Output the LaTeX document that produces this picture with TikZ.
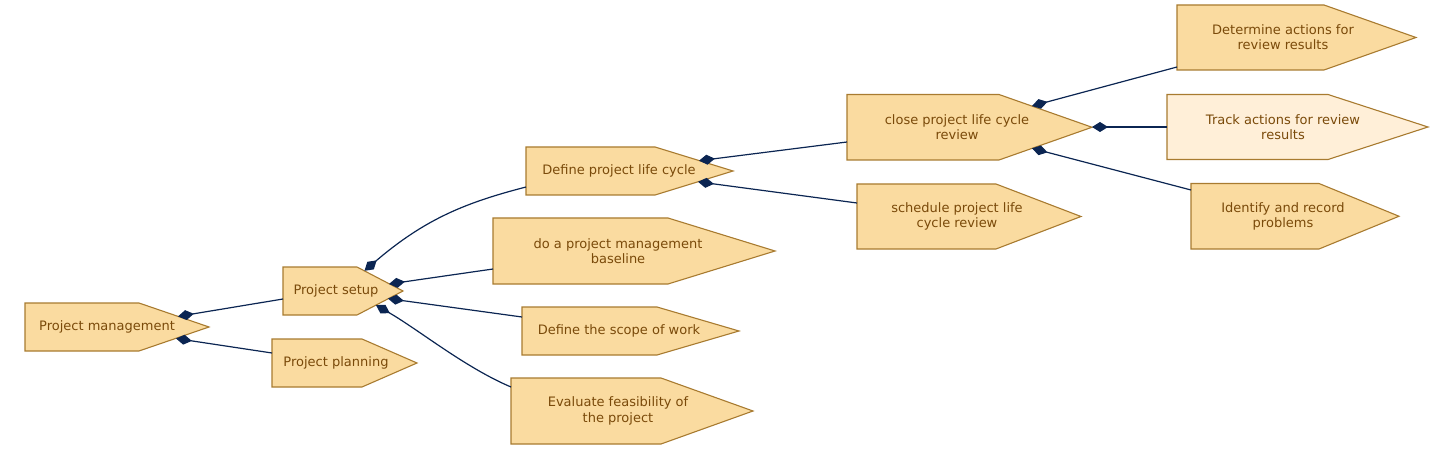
\documentclass[tikz,border=0pt]{standalone}
\usepackage{fontspec}
\setmainfont{DejaVu Sans}
\usetikzlibrary{arrows.meta}
\definecolor{boxfill}{HTML}{FADBA0}
\definecolor{boxfilllight}{HTML}{FFEFD8}
\definecolor{boxedge}{HTML}{A87B30}
\definecolor{boxtextc}{HTML}{7A4A0A}
\definecolor{linkc}{HTML}{0B2552}
\tikzset{
  boxline/.style={draw=boxedge, line width=1.1pt, fill=boxfill, line join=miter},
  lightbox/.style={boxline, fill=boxfilllight},
  boxtext/.style={text=boxtextc, align=center, inner sep=0pt, font=\fontsize{13}{15.3}\selectfont},
  link/.style={draw=linkc, line width=1.2pt, {Diamond[length=16pt,width=10pt]}-},
}
\newcommand{\pbox}[9]{%
  \draw[#9] (#2,#3) -- (#4,#3) -- (#5,{(#3+#6)/2}) -- (#4,#6) -- (#2,#6) -- cycle;
  \node[boxtext] (#1) at (#7,{(#3+#6)/2}) {#8};}
\begin{document}
\begin{tikzpicture}[x=1pt,y=-1pt]
\useasboundingbox (0,0) rectangle (1432,449);
% boxes
\pbox{pm}{25}{303}{139}{209}{351}{107}{Project management}{boxline}
\pbox{setup}{283}{267}{357}{403}{315}{336}{Project setup}{boxline}
\pbox{planning}{272}{339}{362}{417}{387}{336}{Project planning}{boxline}
\pbox{define}{526}{147}{655}{733}{195}{619}{Define project life cycle}{boxline}
\pbox{baseline}{493}{218}{668}{775}{284}{618}{do a project management\\baseline}{boxline}
\pbox{scope}{522}{307}{657}{739}{355}{619}{Define the scope of work}{boxline}
\pbox{evaluate}{511}{378}{661}{753}{444}{618}{Evaluate feasibility of\\the project}{boxline}
\pbox{close}{847}{94.5}{999}{1092}{160}{957}{close project life cycle\\review}{boxline}
\pbox{schedule}{857}{184}{996}{1081}{249}{957}{schedule project life\\cycle review}{boxline}
\pbox{determine}{1177}{5}{1324}{1416}{70}{1283}{Determine actions for\\review results}{boxline}
\pbox{track}{1167}{94.5}{1328}{1428}{159.5}{1283}{Track actions for review\\results}{lightbox}
\pbox{identify}{1191}{183.5}{1319}{1399}{249}{1283}{Identify and record\\problems}{boxline}
% connector ends
\coordinate (pm-s1) at (178,316.4);
\coordinate (pm-s2) at (176,338.5);
\coordinate (setup-s1) at (364.5,270.8);
\coordinate (setup-s2) at (389,284);
\coordinate (setup-s3) at (388,298.6);
\coordinate (setup-s4) at (376,305.1);
\coordinate (define-s1) at (699,160.7);
\coordinate (define-s2) at (698,181.8);
\coordinate (close-s1) at (1032,106);
\coordinate (close-s2) at (1092,127);
\coordinate (close-s3) at (1032,148.3);
\coordinate (setup-in) at (283,299);
\coordinate (planning-in) at (272,353);
\coordinate (define-in) at (526,187);
\coordinate (baseline-in) at (493,269);
\coordinate (scope-in) at (522,317);
\coordinate (evaluate-in) at (511,387);
\coordinate (close-in) at (847,142);
\coordinate (schedule-in) at (857,203);
\coordinate (determine-in) at (1177,67);
\coordinate (track-in) at (1167,127);
\coordinate (identify-in) at (1191,190);
% connectors
\draw[link] (pm-s1) -- (setup-in);
\draw[link] (pm-s2) -- (planning-in);
\draw[link] (setup-s1) .. controls (426,218) and (468,202) .. (define-in);
\draw[link] (setup-s2) -- (baseline-in);
\draw[link] (setup-s3) -- (scope-in);
\draw[link] (setup-s4) .. controls (419,330) and (465,367.5) .. (evaluate-in);
\draw[link] (define-s1) -- (close-in);
\draw[link] (define-s2) -- (schedule-in);
\draw[link] (close-s1) -- (determine-in);
\draw[link] (close-s2) -- (track-in);
\draw[link] (close-s3) -- (identify-in);
\end{tikzpicture}
\end{document}
